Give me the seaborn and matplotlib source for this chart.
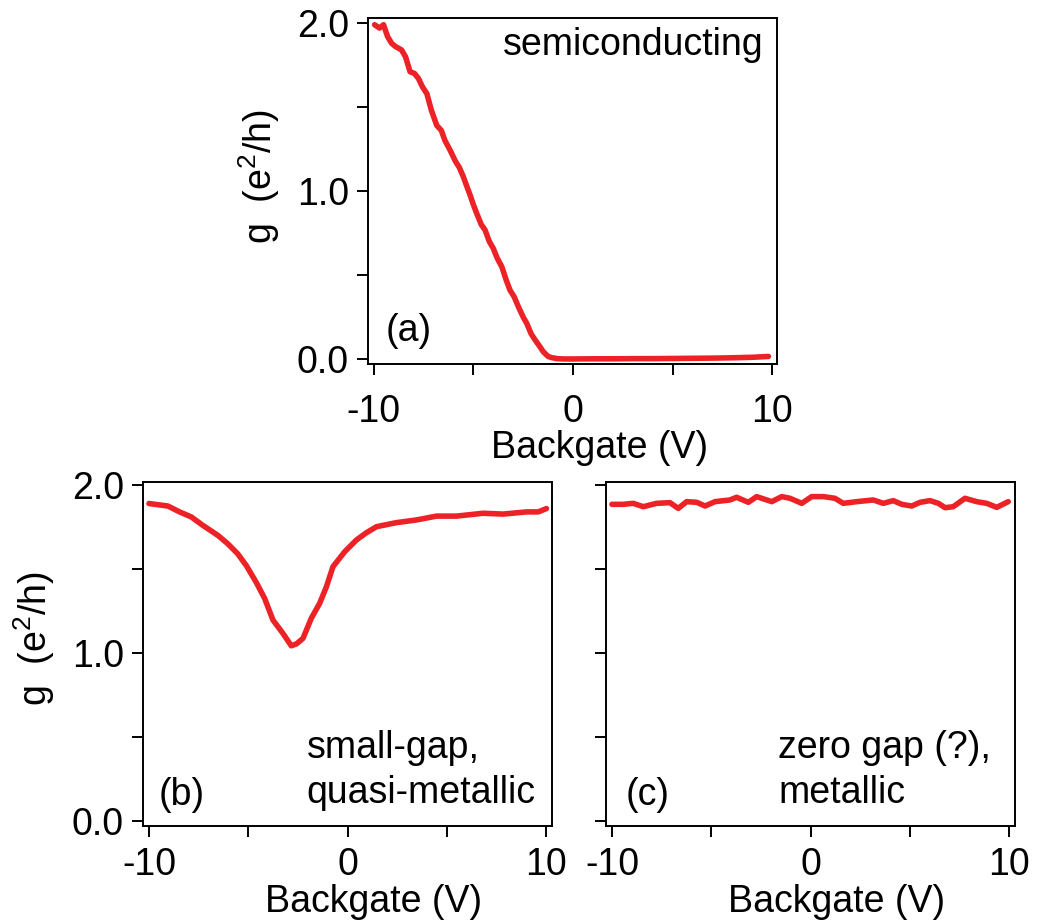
import matplotlib
matplotlib.use("Agg")
import matplotlib.pyplot as plt
import seaborn as sns
import pandas as pd

# values
semi_v = [-9.95, -9.7, -9.5, -9.3, -9.1, -8.9, -8.6, -8.4, -8.17, -7.95, -7.75, -7.55,
          -7.33, -7.1, -6.83, -6.6, -6.42, -6.15, -5.91, -5.7, -5.5, -5.3, -5.16, -5.0,
          -4.83, -4.6, -4.41, -4.2, -4.0, -3.8, -3.57, -3.35, -3.16, -2.95, -2.74, -2.5,
          -2.32, -2.1, -1.9, -1.7, -1.49, -1.25, -1.07, -0.8, -0.5, 0, 1, 2, 3, 4, 5,
          6, 7, 8, 9, 9.8]
semi_g = [1.99, 1.97, 1.99, 1.92, 1.88, 1.86, 1.84, 1.80, 1.71, 1.70, 1.67, 1.62,
          1.58, 1.48, 1.39, 1.36, 1.30, 1.24, 1.18, 1.14, 1.085, 1.02, 0.976, 0.92,
          0.867, 0.80, 0.768, 0.70, 0.659, 0.60, 0.549, 0.47, 0.41, 0.37, 0.311, 0.25,
          0.212, 0.15, 0.113, 0.08, 0.043, 0.015, 0.008, 0.002, 0.0, 0.0, 0.001, 0.001,
          0.002, 0.002, 0.003, 0.004, 0.005, 0.007, 0.01, 0.015]

small_v = [-10.0, -9.05, -8.46, -7.87, -7.29, -6.53, -6.03, -5.53, -5.10, -4.6, -4.18,
           -3.76, -3.26, -2.84, -2.58, -2.25, -1.83, -1.41, -1.07, -0.74, -0.15, 0.44,
           0.94, 1.45, 2.45, 3.46, 4.47, 5.48, 6.82, 7.82, 9.0, 9.59, 10.0]
small_g = [1.89, 1.875, 1.84, 1.81, 1.76, 1.70, 1.65, 1.59, 1.52, 1.42, 1.325,
           1.196, 1.117, 1.043, 1.054, 1.087, 1.207, 1.296, 1.395, 1.514, 1.603, 1.673,
           1.716, 1.752, 1.776, 1.792, 1.815, 1.815, 1.832, 1.827, 1.84, 1.84, 1.86]

zero_v = [-10.0, -9.43, -8.93, -8.42, -7.75, -7.08, -6.66, -6.24, -5.73, -5.31, -4.81,
          -4.06, -3.72, -3.13, -2.71, -1.95, -1.45, -1.03, -0.44, 0.06, 0.65, 1.23,
          1.65, 2.33, 3.16, 3.67, 4.17, 4.6, 5.1, 5.52, 6.02, 6.44, 6.78, 7.19, 7.78,
          8.37, 8.88, 9.38, 9.96]
zero_g = [1.885, 1.885, 1.891, 1.871, 1.891, 1.895, 1.861, 1.901, 1.897, 1.875, 1.901,
          1.911, 1.927, 1.897, 1.931, 1.901, 1.931, 1.921, 1.891, 1.931, 1.931, 1.921,
          1.891, 1.901, 1.911, 1.891, 1.907, 1.885, 1.875, 1.897, 1.907, 1.891, 1.865,
          1.871, 1.921, 1.901, 1.891, 1.867, 1.901]

x_ticks = [-10, -5, 0, 5, 10]
x_labels = ["-10", "", "0", "", "10"]
y_ticks = [0.0, 0.5, 1.0, 1.5, 2.0]
y_labels = ["0.0", "", "1.0", "", "2.0"]

sns.set_style("ticks")
plt.rcParams["font.family"] = ["Liberation Sans", "DejaVu Sans"]
plt.rcParams["mathtext.fontset"] = "custom"
plt.rcParams["mathtext.rm"] = "Liberation Sans"
plt.rcParams["mathtext.it"] = "Liberation Sans:italic"
plt.rcParams["text.color"] = "black"
plt.rcParams["axes.labelcolor"] = "black"

red = "#ec2227"
fs = 27
W, H = 1039, 923
fig = plt.figure(figsize=(W / 100, H / 100), dpi=100)


def make_ax(l, t, r, b):
    return fig.add_axes([l / W, 1 - b / H, (r - l) / W, (b - t) / H])


ax_a = make_ax(368, 18, 777, 364)
ax_b = make_ax(143, 482, 552, 826)
ax_c = make_ax(606, 482, 1015, 826)

panels = [
    (ax_a, semi_v, semi_g, (-10.28, 10.23), (-0.03, 2.03), 13.5),
    (ax_b, small_v, small_g, (-10.3, 10.28), (-0.03, 2.018), 7),
    (ax_c, zero_v, zero_g, (-10.3, 10.3), (-0.03, 2.018), 7),
]

for i, (ax, v, g, xl, yl, xpad) in enumerate(panels):
    df = pd.DataFrame({"Backgate": v, "g": g})
    sns.lineplot(data=df, x="Backgate", y="g", ax=ax, color=red, lw=4.0, sort=False)
    ax.set_xlim(*xl)
    ax.set_ylim(*yl)
    ax.set_xticks(x_ticks)
    ax.set_xticklabels(x_labels)
    ax.set_yticks(y_ticks)
    ax.set_yticklabels(y_labels if i < 2 else [""] * 5)
    ax.set_xlabel("")
    ax.set_ylabel("")
    ax.tick_params(direction="out", length=7.8, width=1.4, labelsize=fs, pad=6, colors="black")
    ax.tick_params(axis="x", pad=xpad)
    for s in ax.spines.values():
        s.set_visible(True)
        s.set_linewidth(1.4)
        s.set_color("black")

ylab = r"g  (e$^{\mathregular{2}}$/h)"
fig.text(259.5 / W, 1 - 176.5 / H, ylab, rotation=90, ha="center", va="center", fontsize=fs)
fig.text(34.5 / W, 1 - 639 / H, ylab, rotation=90, ha="center", va="center", fontsize=fs)
fig.text(600 / W, 1 - 448 / H, "Backgate (V)", ha="center", va="center", fontsize=fs)
fig.text(374 / W, 1 - 902 / H, "Backgate (V)", ha="center", va="center", fontsize=fs)
fig.text(837 / W, 1 - 902 / H, "Backgate (V)", ha="center", va="center", fontsize=fs)

ax_a.text(0.966, 0.893, "semiconducting", transform=ax_a.transAxes, ha="right", va="baseline", fontsize=fs)
ax_a.text(0.042, 0.066, "(a)", transform=ax_a.transAxes, ha="left", va="baseline", fontsize=fs)
ax_b.text(0.039, 0.061, "(b)", transform=ax_b.transAxes, ha="left", va="baseline", fontsize=fs)
ax_b.text(0.40, 0.198, "small-gap,", transform=ax_b.transAxes, ha="left", va="baseline", fontsize=fs)
ax_b.text(0.40, 0.067, "quasi-metallic", transform=ax_b.transAxes, ha="left", va="baseline", fontsize=fs)
ax_c.text(0.049, 0.061, "(c)", transform=ax_c.transAxes, ha="left", va="baseline", fontsize=fs)
ax_c.text(0.421, 0.198, "zero gap (?),", transform=ax_c.transAxes, ha="left", va="baseline", fontsize=fs)
ax_c.text(0.421, 0.067, "metallic", transform=ax_c.transAxes, ha="left", va="baseline", fontsize=fs)

fig.savefig("out.png", dpi=100)
